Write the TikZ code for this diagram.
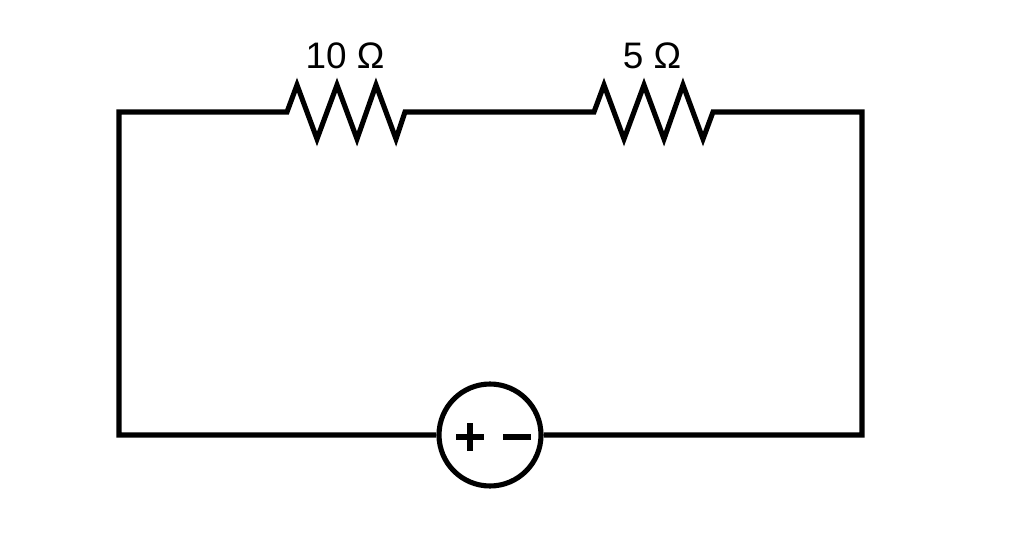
\documentclass[tikz,border=0pt]{standalone}
\usepackage{fontspec}
\setmainfont{Liberation Sans}
\begin{document}
\begin{tikzpicture}[x=0.02cm,y=-0.02cm,
  wire/.style={line width=2.9pt,line join=miter},
  lbl/.style={font=\fontsize{21pt}{24pt}\selectfont,inner sep=0pt}]
\useasboundingbox (0,0) rectangle (1014,560);
\coordinate (tl) at (119,112);
\coordinate (tr) at (862,112);
\coordinate (bl) at (119,435);
\coordinate (br) at (862,435);
\coordinate (r1a) at (287,112);
\coordinate (r1b) at (405,112);
\coordinate (r2a) at (594,112);
\coordinate (r2b) at (713,112);
\node[circle,draw,line width=2.9pt,minimum size=104\pgflinewidth,inner sep=0pt,minimum size=2.04cm] (src) at (490,435) {};
\draw[wire] (src.west) -- (bl) -- (tl) -- (r1a)
  -- (297,85) -- (317,139) -- (337,85) -- (357,139) -- (376,85) -- (396,139) -- (r1b)
  -- (r2a) -- (604,85) -- (624,139) -- (644,85) -- (664,139) -- (683,85) -- (703,139) -- (r2b)
  -- (tr) -- (br) -- (src.east);
\draw[line width=3pt] (456,437) -- (484,437) (470,423) -- (470,451);
\draw[line width=3pt] (503,437) -- (531,437);
\node[lbl] (l1) at (345,56) {10 Ω};
\node[lbl] (l2) at (652,56) {5 Ω};
\end{tikzpicture}
\end{document}
